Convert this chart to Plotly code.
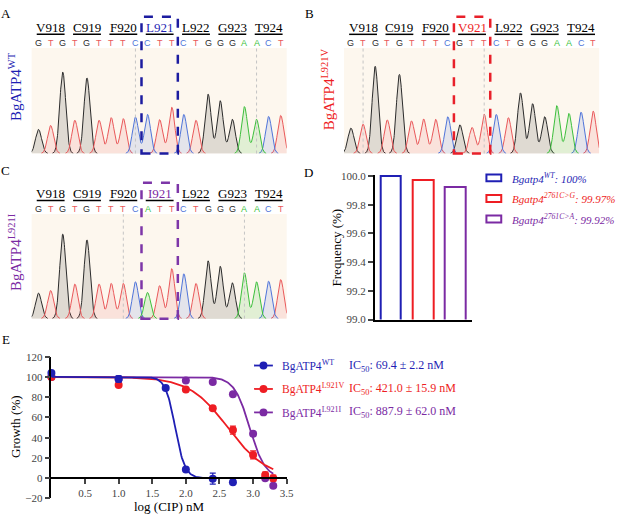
import numpy as np
import plotly.graph_objects as go

# ---- A-C: Sanger traces (called bases, peak heights in trace units) ----
bases_wt = list("GTGTGTTTCCTTCTGGGAACT")
bases_l921v = list("GTGTGTTTCGTTCTGGGAACT")
bases_l921i = list("GTGTGTTTCATTCTGGGAACT")
peaks_wt = [74, 86, 250, 102, 232, 102, 110, 107, 112, 120, 104, 142, 120, 102, 182, 162, 105, 144, 105, 114, 117]
peaks_l921v = [78, 90, 268, 103, 243, 100, 106, 105, 113, 88, 80, 121, 120, 110, 186, 153, 113, 147, 123, 127, 130]
peaks_l921i = [79, 87, 262, 107, 244, 107, 109, 109, 114, 81, 102, 155, 139, 109, 179, 162, 111, 142, 114, 116, 121]
codons_wt = ["V918", "C919", "F920", "L921", "L922", "G923", "T924"]
codons_l921v = ["V918", "C919", "F920", "V921", "L922", "G923", "T924"]
codons_l921i = ["V918", "C919", "F920", "I921", "L922", "G923", "T924"]
guides_wt = [8, 18]
guides_l921v = [1, 11]
guides_l921i = [7, 17]
mut_codon = 3

# ---- D: allele frequency ----
freq_alleles = ["WT", "2761C>G", "2761C>A"]
freq_values = [100.0, 99.97, 99.92]

# ---- E: dose response ----
strains = ["WT", "L921V", "L921I"]
dose_wt = [0, 1.0, 1.7, 2.0, 2.4, 2.7]
growth_wt = [104, 98, 89, 8.5, -0.5, -4]
err_wt = [1, 3, 1.5, 1.5, 5.5, 2]
dose_l921v = [0, 1.0, 2.0, 2.4, 2.7, 3.0, 3.18, 3.3]
growth_l921v = [100, 92, 87.5, 69, 47.5, 23, 3, 0]
err_l921v = [1, 1, 2, 1.5, 4, 4, 3, 3]
dose_l921i = [0, 1.0, 2.0, 2.4, 2.7, 3.0, 3.18, 3.3]
growth_l921i = [100, 98, 96.5, 95, 83, 44, 0, -7.5]
err_l921i = [1, 1, 1.5, 1, 1.5, 2, 1.5, 1.5]
ic50_nm = [69.4, 421.0, 887.9]
ic50_sd = [2.2, 15.9, 62.0]
hill_slope = [6.0, 1.5, 3.8]

W, H = 617, 521
SERIF = "Liberation Serif"
SANS = "Liberation Sans"
BLUE, RED, PURPLE = "#1f1fb4", "#ee1d23", "#7b2aa3"
BASE_LINE = {"G": "#2b2b2b", "T": "#e9585a", "C": "#4f74d9", "A": "#3cbf3c"}
BASE_FILL = {"G": "rgba(70,70,70,0.16)", "T": "rgba(233,88,90,0.13)",
             "C": "rgba(79,116,217,0.14)", "A": "rgba(60,191,60,0.14)"}


def px(x):
    return x / W


def py(y):
    return 1 - y / H


fig = go.Figure()
shapes = []
annotations = []


def note(text, x, y, size=13, color="black", family=SERIF, xanchor="center",
         yanchor="middle", angle=0, xref="paper", **kw):
    annotations.append(dict(text=text, x=x, y=y, xref=xref, yref="paper",
                             showarrow=False, xanchor=xanchor, yanchor=yanchor,
                             textangle=angle, font=dict(family=family, size=size, color=color), **kw))


panels = [
    dict(k=1, bases=bases_wt, peaks=peaks_wt, codons=codons_wt, guides=guides_wt,
         color=BLUE, box="#1c1ca0", name="BgATP4<sup>WT</sup>", x0=32, top=43, base=151,
         letter="A", lx=6, ly=8, nx=15, ny=82),
    dict(k=2, bases=bases_l921v, peaks=peaks_l921v, codons=codons_l921v, guides=guides_l921v,
         color=RED, box="#e8202a", name="BgATP4<sup>L921V</sup>", x0=348, top=43, base=151,
         letter="B", lx=313, ly=8, nx=332, ny=85),
    dict(k=3, bases=bases_l921i, peaks=peaks_l921i, codons=codons_l921i, guides=guides_l921i,
         color=PURPLE, box="#7d36a8", name="BgATP4<sup>L921I</sup>", x0=32, top=213, base=320,
         letter="C", lx=6, ly=168, nx=15, ny=252),
]

grid = np.linspace(-0.6, 20.5, 1200)
for p in panels:
    k = p["k"]
    xa, ya = ("x", "y") if k == 1 else (f"x{k}", f"y{k}")
    for b in "GTCA":
        idx = [i for i, c in enumerate(p["bases"]) if c == b]
        trace = sum(p["peaks"][i] * np.exp(-0.5 * ((grid - i) / 0.25) ** 2) for i in idx)
        fig.add_trace(go.Scatter(
            x=grid, y=[v if v > 0.6 else None for v in trace], xaxis=xa, yaxis=ya,
            mode="lines", line=dict(color=BASE_LINE[b], width=1), fill="tozeroy",
            fillcolor=BASE_FILL[b], connectgaps=False, showlegend=False, hoverinfo="skip"))

    top_y = p["top"]
    dom_x = [px(p["x0"]), px(p["x0"] + 258)]
    dom_y = [py(p["base"]), py(top_y)]
    fig.layout[f"xaxis{'' if k == 1 else k}"] = dict(domain=dom_x, range=[-0.571, 20.49], visible=False,
                                                     anchor=ya)
    fig.layout[f"yaxis{'' if k == 1 else k}"] = dict(domain=dom_y, range=[0, 324], visible=False,
                                                     anchor=xa)
    shapes.append(dict(type="rect", xref=f"{xa} domain", yref=f"{ya} domain", x0=0, x1=1, y0=0, y1=1,
                       fillcolor="#fdf7ee", line=dict(width=0), layer="below"))
    for g in p["guides"]:
        shapes.append(dict(type="line", xref=xa, yref="paper", x0=g, x1=g,
                           y0=dom_y[0], y1=dom_y[1], line=dict(color="#c4c4c4", width=1, dash="dot")))

    # codon labels with underlines
    lab_y = top_y - 21
    for c, name in enumerate(p["codons"]):
        mid = 3 * c + 1
        col = p["color"] if c == mut_codon else "black"
        note(name, mid, py(lab_y), size=13, color=col, xref=xa)
        shapes.append(dict(type="line", xref=xa, yref="paper", x0=mid - 1.15, x1=mid + 1.15,
                           y0=py(top_y - 14), y1=py(top_y - 14), line=dict(color="black", width=1.5)))
    # called bases
    for i, b in enumerate(p["bases"]):
        note(b, i, py(top_y - 5), size=9, color=BASE_LINE[b], family=SANS, xref=xa)
    # dashed box around the mutated codon
    shapes.append(dict(type="rect", xref=xa, yref="paper", x0=3 * mut_codon - 0.5, x1=3 * mut_codon + 2.5,
                       y0=py(p["base"]), y1=py(top_y - 32), line=dict(color=p["box"], width=2.5, dash="dash")))
    note(p["name"], px(p["nx"]), py(p["ny"]), size=15, color=p["color"], angle=-90)
    note(p["letter"], px(p["lx"]), py(p["ly"]), size=13)

# ---- D ----
freq_colors = [BLUE, RED, PURPLE]
fig.add_trace(go.Bar(
    x=freq_alleles, y=freq_values, xaxis="x4", yaxis="y4", width=0.64,
    marker=dict(color="white", line=dict(color=freq_colors, width=2)), showlegend=False))
fig.layout.xaxis4 = dict(domain=[px(379), px(477)], range=[-0.5, 2.5], anchor="y4", showline=True,
                         linecolor="black", linewidth=1.5, showticklabels=False, ticks="", showgrid=False)
fig.layout.yaxis4 = dict(domain=[py(321), py(173)], range=[99, 100.007], anchor="x4", showline=True,
                         linecolor="black", linewidth=1.5, ticks="outside", ticklen=5, tickwidth=1.5,
                         tickvals=[99.0, 99.2, 99.4, 99.6, 99.8, 100.0], tickformat=".1f",
                         tickfont=dict(family=SERIF, size=11, color="#444"), showgrid=False, zeroline=False)
note("Frequency (%)", px(340), py(247), size=13, angle=-90)
note("D", px(312), py(170), size=13)
for i, (a, v) in enumerate(zip(freq_alleles, freq_values)):
    yc = 176 + 21 * i
    shapes.append(dict(type="rect", xref="paper", yref="paper", x0=px(492), x1=px(507),
                       y0=py(yc + 3.5), y1=py(yc - 3.5), line=dict(color=freq_colors[i], width=2),
                       fillcolor="white"))
    note(f"<i>Bgatp4<sup>{a.replace('>', '&gt;')}</sup>: {v:g}%</i>", px(516), py(yc), size=11,
         color=freq_colors[i], xanchor="left")

# ---- E ----
series = [(dose_l921i, growth_l921i, err_l921i, PURPLE, 2),
          (dose_l921v, growth_l921v, err_l921v, RED, 1),
          (dose_wt, growth_wt, err_wt, BLUE, 0)]
curve_x = np.linspace(0, 3.3, 300)
for dose, growth, err, col, j in series:
    logic = np.log10(ic50_nm[j])
    fit = 100 / (1 + 10 ** ((curve_x - logic) * hill_slope[j]))
    fig.add_trace(go.Scatter(x=curve_x, y=fit, xaxis="x5", yaxis="y5", mode="lines",
                             line=dict(color=col, width=1.8), showlegend=False, cliponaxis=False))
    fig.add_trace(go.Scatter(x=dose, y=growth, xaxis="x5", yaxis="y5", mode="markers",
                             marker=dict(color=col, size=8),
                             error_y=dict(type="data", array=err, color=col, thickness=1.2, width=3),
                             showlegend=False, cliponaxis=False))

fig.layout.xaxis5 = dict(domain=[px(52), px(290)], range=[0, 3.5], anchor="free", position=py(483.3),
                         showline=True, linecolor="black", linewidth=1.5, ticks="outside", ticklen=5,
                         tickwidth=1.5, tickvals=[0.5, 1.0, 1.5, 2.0, 2.5, 3.0, 3.5], tickformat=".1f",
                         tickfont=dict(family=SERIF, size=11, color="#444"), showgrid=False, zeroline=False)
fig.layout.yaxis5 = dict(domain=[py(504), py(359)], range=[-20, 120], anchor="x5", showline=True,
                         linecolor="black", linewidth=1.5, ticks="outside", ticklen=5, tickwidth=1.5,
                         tickvals=list(range(-20, 121, 20)),
                         tickfont=dict(family=SERIF, size=11, color="#444"), showgrid=False, zeroline=False)
note("Growth (%)", px(15), py(431), size=13, angle=-90)
note("log (CIP) nM", px(171), py(512), size=13)
note("E", px(6), py(341), size=13)

for j, s in enumerate(strains):
    yc = 368 + 24 * j
    col = [BLUE, RED, PURPLE][j]
    shapes.append(dict(type="line", xref="paper", yref="paper", x0=px(257), x1=px(276),
                       y0=py(yc), y1=py(yc), line=dict(color=col, width=1.8)))
    shapes.append(dict(type="circle", xref="paper", yref="paper", x0=px(262.5), x1=px(270.5),
                       y0=py(yc + 4), y1=py(yc - 4), fillcolor=col, line=dict(width=0)))
    note(f"BgATP4<sup>{s}</sup>", px(283), py(yc), size=11.5, color=col, xanchor="left")
    note(f"IC<sub>50</sub>: {ic50_nm[j]:.1f} ± {ic50_sd[j]:.1f} nM", px(351), py(yc), size=12,
         color=col, xanchor="left")

fig.update_layout(width=W, height=H, autosize=False, margin=dict(l=0, r=0, t=0, b=0),
                  paper_bgcolor="white", plot_bgcolor="rgba(0,0,0,0)", bargap=0,
                  shapes=shapes, annotations=annotations, showlegend=False)
# the page's default body margin would push the fixed-size figure off the window
fig.write_html("out.html", config={"displayModeBar": False},
               post_script="document.body.style.margin='0px';")
